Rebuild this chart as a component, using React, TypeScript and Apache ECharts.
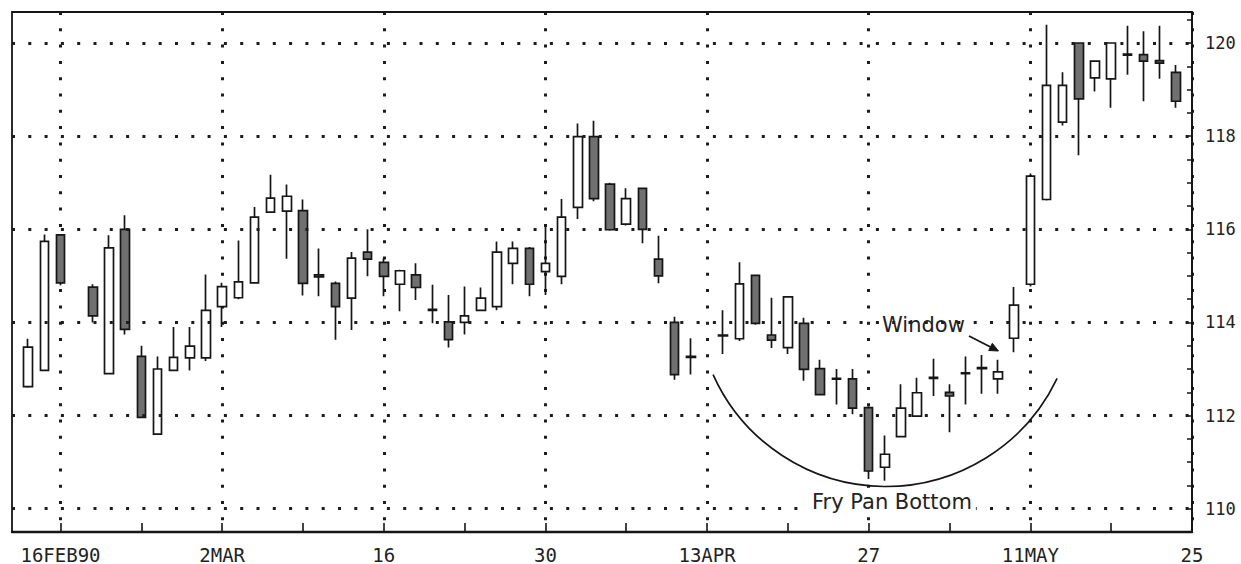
import React, { useEffect, useRef } from 'react';
import * as echarts from 'echarts';

// Trading-day categories (weekdays, 13 Feb 1990 – 25 May 1990)
const DATES: string[] = [
  '1990-02-13', '1990-02-14', '1990-02-15', '1990-02-16',
  '1990-02-19', '1990-02-20', '1990-02-21', '1990-02-22', '1990-02-23',
  '1990-02-26', '1990-02-27', '1990-02-28', '1990-03-01', '1990-03-02',
  '1990-03-05', '1990-03-06', '1990-03-07', '1990-03-08', '1990-03-09',
  '1990-03-12', '1990-03-13', '1990-03-14', '1990-03-15', '1990-03-16',
  '1990-03-19', '1990-03-20', '1990-03-21', '1990-03-22', '1990-03-23',
  '1990-03-26', '1990-03-27', '1990-03-28', '1990-03-29', '1990-03-30',
  '1990-04-02', '1990-04-03', '1990-04-04', '1990-04-05', '1990-04-06',
  '1990-04-09', '1990-04-10', '1990-04-11', '1990-04-12', '1990-04-13',
  '1990-04-16', '1990-04-17', '1990-04-18', '1990-04-19', '1990-04-20',
  '1990-04-23', '1990-04-24', '1990-04-25', '1990-04-26', '1990-04-27',
  '1990-04-30', '1990-05-01', '1990-05-02', '1990-05-03', '1990-05-04',
  '1990-05-07', '1990-05-08', '1990-05-09', '1990-05-10', '1990-05-11',
  '1990-05-14', '1990-05-15', '1990-05-16', '1990-05-17', '1990-05-18',
  '1990-05-21', '1990-05-22', '1990-05-23', '1990-05-24', '1990-05-25',
];

const OPEN: (number | null)[] = [
  null, 112.62, 112.97, 115.88,
  null, 114.76, 112.9, 116.0, 113.27,
  111.6, 112.97, 113.24, 113.24, 114.34,
  114.53, 114.85, 116.37, 116.39, 116.4,
  115.02, 114.84, 114.52, 115.51, 115.29,
  114.82, 115.02, 114.28, 114.01, 114.0,
  114.26, 114.34, 115.27, 115.59, 115.09,
  114.99, 116.47, 117.99, 116.97, 116.11,
  116.88, 115.36, 114.0, 113.27, null,
  113.73, 113.65, 115.01, 113.73, 113.46,
  113.98, 113.01, 112.8, 112.79, 112.17,
  110.89, 111.55, 111.99, 112.82, 112.5,
  112.92, 113.03, 112.79, 113.66, 114.82,
  116.64, 118.3, 120.0, 119.25, 119.23,
  119.76, 119.75, 119.62, 119.37, null,
];

const CLOSE: (number | null)[] = [
  null, 113.47, 115.74, 114.85,
  null, 114.14, 115.6, 113.85, 111.96,
  113.0, 113.25, 113.49, 114.26, 114.77,
  114.87, 116.26, 116.67, 116.71, 114.84,
  114.98, 114.34, 115.38, 115.36, 114.99,
  115.11, 114.75, 114.26, 113.63, 114.14,
  114.52, 115.51, 115.59, 114.82, 115.27,
  116.26, 117.99, 116.66, 115.99, 116.66,
  116.0, 115.0, 112.88, 113.25, null,
  113.71, 114.83, 113.98, 113.62, 114.55,
  112.99, 112.45, 112.78, 112.16, 110.81,
  111.17, 112.16, 112.49, 112.8, 112.42,
  112.9, 113.01, 112.94, 114.37, 117.14,
  119.09, 119.09, 118.8, 119.61, 120.0,
  119.74, 119.61, 119.57, 118.75, null,
];

const LOW: (number | null)[] = [
  null, 112.6, 112.95, 114.8,
  null, 114.0, 112.88, 113.74, 111.95,
  111.6, 112.95, 112.97, 113.17, 113.9,
  114.5, 114.83, 116.37, 115.37, 114.58,
  114.56, 113.63, 113.84, 114.99, 114.56,
  114.24, 114.48, 113.98, 113.46, 113.74,
  114.24, 114.26, 114.82, 114.56, 114.59,
  114.82, 116.22, 116.6, 115.97, 116.08,
  115.7, 114.84, 112.77, 112.88, null,
  113.32, 113.6, 113.95, 113.45, 113.32,
  112.75, 112.43, 112.24, 112.03, 110.64,
  110.6, 111.53, 111.97, 112.42, 111.64,
  112.24, 112.47, 112.47, 113.36, 114.77,
  116.62, 118.23, 117.59, 118.96, 118.61,
  119.32, 118.75, 119.23, 118.61, null,
];

const HIGH: (number | null)[] = [
  null, 113.65, 115.89, 115.9,
  null, 114.82, 115.87, 116.3, 113.5,
  113.27, 113.9, 113.9, 115.03, 114.85,
  115.76, 116.48, 117.17, 116.96, 116.64,
  115.59, 114.88, 115.51, 116.0, 115.38,
  115.13, 115.27, 114.81, 114.59, 114.77,
  114.75, 115.74, 115.74, 115.62, 116.08,
  116.65, 118.27, 118.33, 117.0, 116.88,
  116.9, 115.86, 114.12, 113.66, null,
  114.26, 115.29, 115.03, 114.53, 114.57,
  114.1, 113.2, 113.0, 113.0, 112.2,
  111.57, 112.67, 112.81, 113.22, 112.67,
  113.27, 113.3, 113.2, 114.76, 117.2,
  120.39, 119.37, 120.0, 119.63, 120.0,
  120.37, 120.25, 120.37, 119.53, null,
];

// Weekly ticks (Fridays) and bi-weekly labelled dates
const WEEK_TICKS: string[] = [
  '1990-02-16', '1990-02-23', '1990-03-02', '1990-03-09', '1990-03-16',
  '1990-03-23', '1990-03-30', '1990-04-06', '1990-04-13', '1990-04-20',
  '1990-04-27', '1990-05-04', '1990-05-11', '1990-05-18', '1990-05-25',
];
const LABEL_DATES: string[] = [
  '1990-02-16', '1990-03-02', '1990-03-16', '1990-03-30',
  '1990-04-13', '1990-04-27', '1990-05-11', '1990-05-25',
];
const LABEL_TEXTS: string[] = ['16FEB90', '2MAR', '16', '30', '13APR', '27', '11MAY', '25'];

// Horizontal dotted grid levels / price labels
const PRICE_LEVELS: number[] = [110, 112, 114, 116, 118, 120];

const ANNOTATION_WINDOW = 'Window';
const ANNOTATION_PAN = 'Fry Pan Bottom';

export default function App() {
  const ref = useRef<HTMLDivElement>(null);

  useEffect(() => {
    if (!ref.current) return;
    const chart = echarts.init(ref.current, undefined, { renderer: 'svg' });

    const candles = DATES.map((d, i) =>
      OPEN[i] == null ? null : [d, OPEN[i], CLOSE[i], LOW[i], HIGH[i]]
    ).filter((x) => x !== null);

    const dots = { type: [3, 13.3] as any, width: 3, color: '#1c1c1c' };
    const ink = '#151515';

    const option: any = {
      animation: false,
      backgroundColor: '#ffffff',
      grid: {
        left: 12,
        right: 49,
        top: 12,
        bottom: 32,
        show: true,
        borderColor: ink,
        borderWidth: 1.8,
        backgroundColor: 'transparent',
      },
      xAxis: {
        type: 'category',
        data: DATES,
        boundaryGap: false,
        axisLine: { show: true, lineStyle: { color: ink, width: 2.4 } },
        axisTick: {
          show: true,
          inside: true,
          length: 9,
          interval: (_i: number, v: string) => WEEK_TICKS.includes(v),
          lineStyle: { color: ink, width: 1.6 },
        },
        axisLabel: {
          show: true,
          interval: (_i: number, v: string) => LABEL_DATES.includes(v),
          formatter: (v: string) => {
            const k = LABEL_DATES.indexOf(v);
            return k >= 0 ? LABEL_TEXTS[k] : '';
          },
          fontFamily: 'DejaVu Sans Mono',
          fontSize: 19,
          color: '#222',
          margin: 13,
        },
        splitLine: {
          show: true,
          interval: (_i: number, v: string) => LABEL_DATES.includes(v),
          lineStyle: dots,
        },
      },
      yAxis: {
        type: 'value',
        position: 'right',
        min: 109.5,
        max: 120.666,
        interval: 0.5,
        axisLine: { show: true, lineStyle: { color: ink, width: 1.8 } },
        axisTick: { show: true, inside: true, length: 5, lineStyle: { color: ink, width: 1.5 } },
        axisLabel: {
          formatter: (v: number) => (PRICE_LEVELS.includes(Math.round(v * 1000) / 1000) ? String(v) : ''),
          fontFamily: 'DejaVu Sans Mono',
          fontSize: 17,
          color: '#222',
          margin: 13,
        },
        splitLine: { show: false },
      },
      series: [
        {
          type: 'candlestick',
          data: candles,
          encode: { x: 0, y: [1, 2, 3, 4] },
          barWidth: 9,
          itemStyle: {
            color: '#ffffff',
            color0: '#707070',
            borderColor: ink,
            borderColor0: ink,
            borderWidth: 1.7,
          },
          markLine: {
            silent: true,
            animation: false,
            symbol: ['none', 'none'],
            label: { show: false },
            lineStyle: dots,
            emphasis: { disabled: true },
            data: PRICE_LEVELS.map((v) => ({ yAxis: v })),
          },
        },
      ],
      graphic: [
        {
          type: 'arc',
          shape: { cx: 886, cy: 297, r: 189.5, startAngle: 0.444, endAngle: 2.72, clockwise: true },
          style: { stroke: ink, lineWidth: 1.7, fill: 'none' },
          z: 50,
        },
        {
          type: 'text',
          x: 882,
          y: 325,
          style: {
            text: ANNOTATION_WINDOW,
            fontFamily: 'DejaVu Sans',
            fontSize: 21,
            fill: '#222',
            align: 'left',
            verticalAlign: 'middle',
          },
          z: 60,
        },
        {
          type: 'line',
          shape: { x1: 969, y1: 336, x2: 992, y2: 347.7 },
          style: { stroke: ink, lineWidth: 1.8 },
          z: 60,
        },
        {
          type: 'polygon',
          shape: { points: [[998.5, 351], [992.3, 343.3], [988.7, 350.5]] },
          style: { fill: ink, stroke: ink, lineWidth: 1 },
          z: 60,
        },
        {
          type: 'text',
          x: 808,
          y: 502,
          style: {
            text: ANNOTATION_PAN,
            fontFamily: 'DejaVu Sans',
            fontSize: 21,
            fill: '#222',
            align: 'left',
            verticalAlign: 'middle',
            backgroundColor: '#ffffff',
            padding: [0, 4, 0, 4],
          },
          z: 60,
        },
      ],
    };

    chart.setOption(option);
    return () => chart.dispose();
  }, []);

  return (
    <div
      ref={ref}
      style={{ position: 'absolute', left: 0, top: 0, width: 1241, height: 564, background: '#fff' }}
    />
  );
}
